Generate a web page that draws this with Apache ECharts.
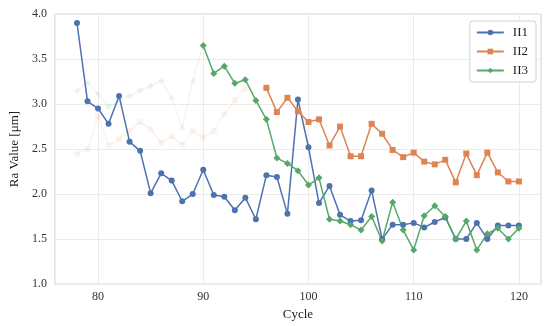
<!DOCTYPE html>
<html><head><meta charset="utf-8">
<script src="https://cdn.jsdelivr.net/npm/echarts@6/dist/echarts.min.js"></script>
<style>html,body{margin:0;padding:0;background:#fff}#c{width:550px;height:326px}</style>
</head><body><div id="c"></div>
<script>
const seriesNames = ['II1', 'II2', 'II3'];
const xTicks = [80, 90, 100, 110, 120];
const ii1Start = 78;
const ii1 = [3.90,3.03,2.95,2.78,3.09,2.58,2.48,2.01,2.23,2.15,1.92,2.00,2.27,1.99,1.97,1.82,1.96,1.72,2.21,2.19,1.78,3.05,2.52,1.90,2.09,1.77,1.70,1.71,2.04,1.50,1.66,1.66,1.68,1.63,1.69,1.74,1.50,1.50,1.68,1.50,1.65,1.65,1.65];
const ii2Start = 96;
const ii2 = [3.18,2.91,3.07,2.92,2.80,2.83,2.54,2.75,2.42,2.42,2.78,2.67,2.49,2.41,2.46,2.36,2.33,2.38,2.13,2.45,2.21,2.46,2.24,2.14,2.14];
const ii2GhostStart = 78;
const ii2Ghost = [2.45,2.50,2.86,2.54,2.61,2.70,2.80,2.72,2.57,2.64,2.55,2.70,2.63,2.70,2.89,3.04,3.17];
const ii3Start = 90;
const ii3 = [3.65,3.34,3.42,3.23,3.27,3.04,2.83,2.40,2.34,2.26,2.10,2.18,1.72,1.70,1.66,1.60,1.75,1.48,1.91,1.60,1.38,1.76,1.87,1.75,1.50,1.70,1.38,1.56,1.62,1.50,1.62];
const ii3GhostStart = 78;
const ii3Ghost = [3.15,3.24,3.11,2.97,3.03,3.09,3.15,3.20,3.26,3.07,2.73,3.26];

const pairs = (start, arr) => arr.map((v, i) => [start + i, v]);
const colors = ['#4c72b0', '#dd8452', '#55a868'];
const symbols = ['circle', 'rect', 'diamond'];
const sizes = [6, 6, 7];
const font = '"Liberation Serif", "DejaVu Serif", serif';

function mk(name, data, k, ghost) {
  return {
    name: name, type: 'line', data: data,
    symbol: symbols[k], symbolSize: sizes[k], showSymbol: true,
    lineStyle: { color: colors[k], width: 1.5, opacity: ghost ? 0.09 : 1 },
    itemStyle: { color: colors[k], opacity: ghost ? 0.09 : 1 },
    emphasis: { disabled: true }, silent: ghost, animation: false, z: ghost ? 1 : 3
  };
}
const ghost3 = pairs(ii3GhostStart, ii3Ghost).concat([[ii3Start, ii3[0]]]);
const chart = echarts.init(document.getElementById('c'), null, { renderer: 'canvas' });
chart.setOption({
  animation: false,
  backgroundColor: '#fff',
  grid: { left: 48, right: 9, top: 14, bottom: 41, show: true, borderColor: '#d0d0d0', borderWidth: 1, backgroundColor: 'transparent' },
  legend: {
    data: seriesNames,
    orient: 'vertical', right: 14, top: 21,
    padding: [5, 8, 5, 6], itemGap: 6, itemWidth: 27, itemHeight: 7,
    backgroundColor: '#fff', borderColor: '#d0d0d0', borderWidth: 1, borderRadius: 3,
    textStyle: { fontFamily: font, fontSize: 13, color: '#222', padding: [0, 0, 0, 4] }
  },
  xAxis: {
    type: 'value', min: 75.9, max: 122.1,
    name: 'Cycle', nameLocation: 'middle', nameGap: 21,
    nameTextStyle: { fontFamily: font, fontSize: 13, color: '#222' },
    axisLine: { show: false }, axisTick: { show: false, customValues: xTicks },
    axisLabel: { customValues: xTicks, fontFamily: font, fontSize: 12, color: '#333', margin: 7 },
    splitLine: { show: true, lineStyle: { color: '#ebebeb', width: 1 } }
  },
  yAxis: {
    type: 'value', min: 1, max: 4, interval: 0.5,
    name: 'Ra Value [μm]', nameLocation: 'middle', nameGap: 27,
    nameTextStyle: { fontFamily: font, fontSize: 13, color: '#222' },
    axisLine: { show: false }, axisTick: { show: false },
    axisLabel: { formatter: v => v.toFixed(1), fontFamily: font, fontSize: 12, color: '#333', margin: 8 },
    splitLine: { show: true, lineStyle: { color: '#ebebeb', width: 1 } }
  },
  series: [
    mk('II2-ghost', pairs(ii2GhostStart, ii2Ghost), 1, true),
    mk('II3-ghost', ghost3, 2, true),
    mk('II1', pairs(ii1Start, ii1), 0, false),
    mk('II2', pairs(ii2Start, ii2), 1, false),
    mk('II3', pairs(ii3Start, ii3), 2, false)
  ]
});
</script></body></html>
